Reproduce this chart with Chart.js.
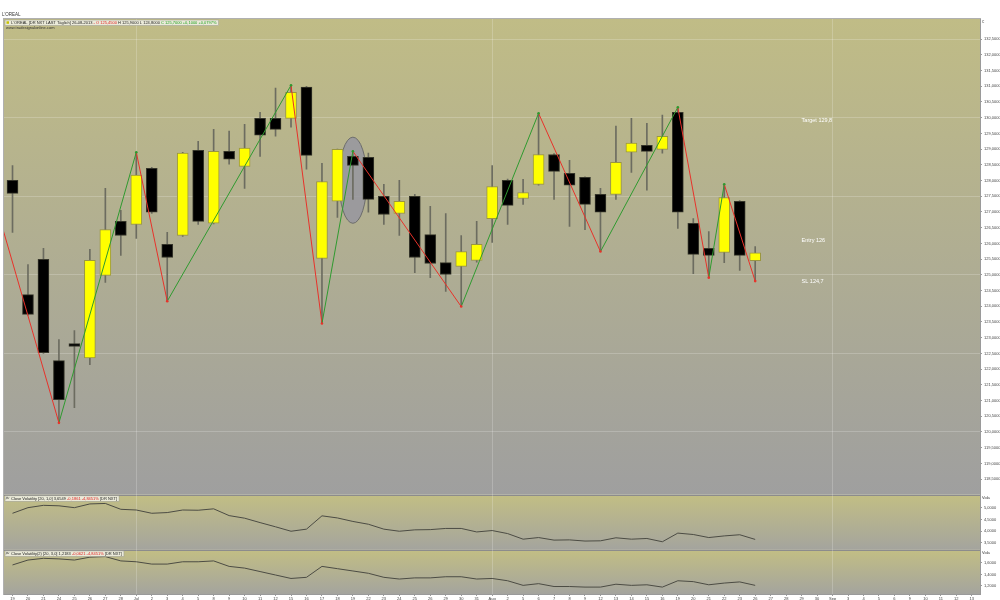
<!DOCTYPE html>
<html>
<head>
<meta charset="utf-8">
<script src="https://cdn.jsdelivr.net/npm/chart.js@4/dist/chart.umd.min.js"></script>
<style>
  html, body { margin: 0; padding: 0; background: #fff; }
  #wrap { width: 1000px; height: 600px; position: relative; }
</style>
</head>
<body>
<div id="wrap"><canvas id="chart"></canvas></div>
<script>
// trading days, Jun 19 - Sep 13 2013
const dates = ['19','20','21','24','25','26','27','28',
  'Jul','2','3','4','5','8','9','10','11','12','15','16','17','18','19','22','23','24','25','26','29','30','31',
  'Aug','2','5','6','7','8','9','12','13','14','15','16','19','20','21','22','23','26','27','28','29','30',
  'Sep','3','4','5','6','9','10','11','12','13'];
const monthStarts = [8, 31, 53];

// daily candles (only up to Aug 26)
const opens  = [128.01,124.37,125.49,122.27,122.81,122.36,124.98,126.70,126.60,128.39,
                125.97,126.25,128.96,126.64,128.93,128.45,129.98,129.98,129.98,130.97,
                125.52,127.34,128.77,128.74,127.50,126.95,127.50,126.28,125.39,125.27,
                125.46,126.79,128.01,127.43,127.88,128.83,128.23,128.10,127.56,127.56,
                128.90,129.12,128.99,130.17,126.64,125.84,125.71,127.34,125.45];
const highs  = [128.48,125.33,125.84,122.94,123.23,125.81,127.75,127.05,128.90,128.42,
                126.35,128.90,129.25,129.63,129.57,129.79,130.17,130.94,131.03,131.00,
                128.55,129.00,128.93,128.87,127.88,128.01,127.56,127.18,126.95,126.25,
                126.70,128.48,128.05,128.04,130.14,128.86,128.64,128.12,127.75,129.73,
                129.98,129.82,130.08,130.33,126.79,126.38,127.88,127.36,125.90];
const lows   = [126.35,123.72,122.50,120.29,120.77,122.14,124.76,125.62,126.16,126.95,
                124.15,126.22,126.60,126.62,128.52,127.75,128.77,129.41,129.70,128.36,
                123.45,126.83,127.40,126.99,126.60,126.25,125.07,124.91,124.47,123.99,
                125.40,126.03,126.60,127.24,127.85,127.40,126.54,126.44,125.74,127.40,
                128.26,127.69,128.87,126.48,125.04,124.91,125.39,125.14,124.80];
const closes = [127.59,123.74,122.52,121.03,122.72,125.46,126.44,126.25,128.17,126.99,
                125.55,128.87,126.70,128.93,128.68,129.03,129.44,129.63,130.81,128.80,
                127.97,128.99,128.48,127.40,126.92,127.34,125.55,125.36,125.01,125.74,
                125.97,127.81,127.21,127.62,128.83,128.29,127.85,127.24,126.99,128.58,
                129.19,128.93,129.41,126.99,125.65,125.62,127.46,125.62,125.70];

// zigzag swing points
const zzIndex = [-1, 3, 8, 10, 18, 20, 22, 29, 34, 38, 43, 45, 46, 48];
const zzPrice = [127.1, 120.29, 128.90, 124.16, 131.03, 123.45, 128.93, 123.99, 130.14, 125.74, 130.33, 124.91, 127.88, 124.80];

// volatility panels
const vola1 = [4.77,5.01,5.11,5.09,5.01,5.17,5.19,4.94,4.91,4.77,
               4.80,4.91,4.90,4.96,4.67,4.56,4.37,4.19,4.00,4.09,
               4.66,4.57,4.42,4.30,4.09,4.00,4.06,4.07,4.12,4.12,
               3.97,4.03,3.90,3.66,3.73,3.62,3.63,3.58,3.59,3.72,
               3.66,3.69,3.55,3.92,3.86,3.73,3.80,3.85,3.65];
const vola2 = [1.565,1.65,1.68,1.67,1.65,1.70,1.71,1.635,1.62,1.58,
               1.58,1.62,1.62,1.635,1.54,1.51,1.45,1.39,1.33,1.35,
               1.54,1.50,1.46,1.42,1.35,1.32,1.34,1.34,1.36,1.36,
               1.32,1.33,1.29,1.21,1.24,1.19,1.19,1.18,1.18,1.23,
               1.21,1.22,1.18,1.29,1.275,1.22,1.25,1.27,1.21];

// tick labels
const priceTicks = [118.5,119,119.5,120,120.5,121,121.5,122,122.5,123,123.5,124,124.5,125,125.5,
                    126,126.5,127,127.5,128,128.5,129,129.5,130,130.5,131,131.5,132,132.5];
const vola1Ticks = [3.5, 4, 4.5, 5];
const vola2Ticks = [1.2, 1.4, 1.6];

// trade levels written on the chart
const levelTexts  = ['Target 129,8', 'Entry 126', 'SL 124,7'];
const levelPrices = [129.8, 126, 124.7];
const levelAt = 51.0;

// circled candle
const markIndex = 22, markPrice = 128.01;

const mainLegend = [["L'OREAL [DR NXT LAST Täglich] 26-08-2013 ", '#222'], ['- O 125,4500', '#e02020'],
                    [' H 125,9000 L 124,8000 ', '#222'], ['C 125,7000 +0,1000 +0,0797%', '#1c9e1c']];
const vola1Legend = [['Close Volatility [20, 1,0] 3,6549 ', '#222'], ['-0,1861 -4,8451%', '#e02020'], [' [DR NXT]', '#222']];
const vola2Legend = [['Close Volatility(2) [20, 3,0] 1,2183 ', '#222'], ['-0,0621 -4,8451%', '#e02020'], [' [DR NXT]', '#222']];

const FONT = '"Liberation Sans", Arial, sans-serif';
const RED = '#e8322a', GREEN = '#2f9a2f';

const fmt = v => v.toFixed(4).replace('.', ',');
const isUp = i => closes[i] >= opens[i];

function drawLegend(ctx, x, y, parts) {
  ctx.font = '4px ' + FONT;
  let w = 6;
  parts.forEach(p => { w += ctx.measureText(p[0]).width; });
  ctx.fillStyle = 'rgba(238,238,226,0.9)';
  ctx.fillRect(x, y, w + 2, 5.5);
  ctx.strokeStyle = '#9a9a90';
  ctx.lineWidth = 0.5;
  ctx.strokeRect(x, y, w + 2, 5.5);
  ctx.textBaseline = 'middle';
  let cx = x + 6;
  parts.forEach(p => {
    ctx.fillStyle = p[1];
    ctx.fillText(p[0], cx, y + 2.9);
    cx += ctx.measureText(p[0]).width;
  });
}

const decor = {
  id: 'decor',
  beforeDraw(chart) {
    const { ctx, chartArea: a } = chart;
    ctx.save();
    ctx.fillStyle = '#ffffff';
    ctx.fillRect(0, 0, chart.width, chart.height);
    const panes = [['y', '#c0bc86', '#9f9f9f'], ['y2', '#c2be84', '#a4a49e'], ['y3', '#c2be84', '#a4a49e']];
    panes.forEach(([id, c0, c1]) => {
      const s = chart.scales[id];
      const g = ctx.createLinearGradient(0, s.top, 0, s.bottom);
      g.addColorStop(0, c0);
      g.addColorStop(1, c1);
      ctx.fillStyle = g;
      ctx.fillRect(a.left, s.top, a.right - a.left, s.bottom - s.top);
    });
    ctx.strokeStyle = '#8c8c8c';
    ctx.lineWidth = 1;
    ['y', 'y2'].forEach(id => {
      const yb = Math.round(chart.scales[id].bottom) + 0.5;
      ctx.beginPath();
      ctx.moveTo(a.left, yb);
      ctx.lineTo(a.right, yb);
      ctx.stroke();
    });
    ctx.strokeStyle = '#b0b0b0';
    ctx.strokeRect(a.left - 0.5, a.top - 0.5, a.right - a.left + 1, a.bottom - a.top + 1);
    ctx.restore();
  },
  beforeDatasetsDraw(chart) {
    const { ctx, scales: { x, y } } = chart;
    const cx = x.getPixelForValue(markIndex), cy = y.getPixelForValue(markPrice);
    const rx = x.getPixelForValue(markIndex + 0.9) - cx;
    const ry = y.getPixelForValue(markPrice - 1.37) - cy;
    ctx.save();
    ctx.beginPath();
    ctx.ellipse(cx, cy, rx, ry, 0, 0, Math.PI * 2);
    ctx.fillStyle = 'rgba(150,150,160,0.85)';
    ctx.fill();
    ctx.strokeStyle = '#6c6c6c';
    ctx.lineWidth = 1;
    ctx.stroke();
    ctx.restore();
  },
  afterDraw(chart) {
    const { ctx, chartArea: a, scales: { x, y, y2, y3 } } = chart;
    ctx.save();
    // trade levels
    ctx.font = '5.5px ' + FONT;
    ctx.fillStyle = '#ffffff';
    ctx.textBaseline = 'middle';
    levelTexts.forEach((t, i) => {
      ctx.fillText(t, x.getPixelForValue(levelAt), y.getPixelForValue(levelPrices[i]) - 3);
    });
    // title and legends
    ctx.font = '4.5px ' + FONT;
    ctx.fillStyle = '#333';
    ctx.fillText("L'OREAL", 2, 15);
    drawLegend(ctx, a.left + 1, y.top + 1, mainLegend);
    ctx.fillStyle = '#c8c400';
    ctx.fillRect(a.left + 2.5, y.top + 2.3, 2.5, 2.5);
    ctx.font = '4px ' + FONT;
    ctx.fillStyle = '#333';
    ctx.textBaseline = 'middle';
    ctx.fillText('www.tradesignalonline.com', a.left + 2, y.top + 9);
    drawLegend(ctx, a.left + 1, y2.top + 1, vola1Legend);
    drawLegend(ctx, a.left + 1, y3.top + 1, vola2Legend);
    [y2, y3].forEach(s => {
      ctx.strokeStyle = '#333';
      ctx.lineWidth = 0.5;
      ctx.beginPath();
      ctx.moveTo(a.left + 2, s.top + 4.5);
      ctx.lineTo(a.left + 3, s.top + 2);
      ctx.lineTo(a.left + 4, s.top + 4);
      ctx.lineTo(a.left + 5, s.top + 2.5);
      ctx.stroke();
    });
    // axis captions
    ctx.font = '4px ' + FONT;
    ctx.fillStyle = '#333';
    ctx.fillText('€', a.right + 2, y.top + 2.5);
    ctx.fillText('Vola', a.right + 2, y2.top + 3);
    ctx.fillText('Vola', a.right + 2, y3.top + 3);
    ctx.restore();
  }
};

const yTickOpts = { callback: v => fmt(v), font: { size: 4, family: FONT }, color: '#444', padding: 2 };
const yGrid = { color: 'transparent', tickColor: '#9a9a9a', tickLength: 2 };

new Chart(document.getElementById('chart'), {
  type: 'bar',
  data: {
    datasets: [
      {
        type: 'line', yAxisID: 'y', order: 0,
        data: zzIndex.map((v, i) => ({ x: v, y: zzPrice[i] })),
        borderWidth: 1, tension: 0,
        segment: { borderColor: c => c.p1.parsed.y < c.p0.parsed.y ? RED : GREEN },
        pointRadius: c => c.dataIndex === 0 ? 0 : 1.3,
        pointBackgroundColor: c => (c.dataIndex > 0 && zzPrice[c.dataIndex] > zzPrice[c.dataIndex - 1]) ? GREEN : RED,
        pointBorderWidth: 0
      },
      {
        yAxisID: 'y', order: 1, grouped: false,
        data: opens.map((o, i) => ({ x: i, y: [o, closes[i]] })),
        backgroundColor: c => isUp(c.dataIndex) ? '#ffff00' : '#000000',
        borderColor: c => isUp(c.dataIndex) ? '#9a9640' : '#35352a',
        borderWidth: 1, borderSkipped: false, barThickness: 11, minBarLength: 2
      },
      {
        yAxisID: 'y', order: 2, grouped: false,
        data: highs.map((h, i) => ({ x: i, y: [lows[i], h] })),
        backgroundColor: '#6c6c60', barThickness: 1
      },
      {
        type: 'line', yAxisID: 'y2',
        data: vola1.map((v, i) => ({ x: i, y: v })),
        borderColor: '#4c4c44', borderWidth: 1, pointRadius: 0, tension: 0
      },
      {
        type: 'line', yAxisID: 'y3',
        data: vola2.map((v, i) => ({ x: i, y: v })),
        borderColor: '#4c4c44', borderWidth: 1, pointRadius: 0, tension: 0
      }
    ]
  },
  options: {
    responsive: true,
    maintainAspectRatio: false,
    animation: false,
    layout: { padding: { top: 19, left: 1, right: 0, bottom: 0 } },
    plugins: { legend: { display: false }, tooltip: { enabled: false } },
    scales: {
      x: {
        type: 'linear', min: -0.55, max: 62.53, offset: false,
        afterBuildTicks: s => { s.ticks = dates.map((d, i) => ({ value: i })); },
        afterFit: s => { s.height = 6; },
        ticks: { callback: v => dates[v] ?? '', font: { size: 4, family: FONT }, color: '#444',
                 padding: 0, autoSkip: false, maxRotation: 0 },
        grid: { offset: false,
                color: c => (c.tick && monthStarts.includes(c.tick.value)) ? 'rgba(255,255,255,0.2)' : 'transparent',
                tickColor: '#9a9a9a', tickLength: 2 },
        border: { color: '#9a9a9a' }
      },
      y: {
        type: 'linear', position: 'right', stack: 'panes', stackWeight: 475,
        min: 118.0, max: 133.14,
        afterBuildTicks: s => { s.ticks = priceTicks.map(v => ({ value: v })); },
        afterFit: s => { s.width = 20; },
        ticks: yTickOpts,
        grid: { color: c => (c.tick && Math.abs(c.tick.value / 2.5 - Math.round(c.tick.value / 2.5)) < 1e-6) ? 'rgba(255,255,255,0.2)' : 'transparent',
                tickColor: '#9a9a9a', tickLength: 2 },
        border: { color: '#9a9a9a' }
      },
      y2: {
        type: 'linear', position: 'right', stack: 'panes', stackWeight: 55,
        min: 3.20, max: 5.56,
        afterBuildTicks: s => { s.ticks = vola1Ticks.map(v => ({ value: v })); },
        afterFit: s => { s.width = 20; },
        ticks: yTickOpts, grid: yGrid, border: { color: '#9a9a9a' }
      },
      y3: {
        type: 'linear', position: 'right', stack: 'panes', stackWeight: 44,
        min: 1.06, max: 1.826,
        afterBuildTicks: s => { s.ticks = vola2Ticks.map(v => ({ value: v })); },
        afterFit: s => { s.width = 20; },
        ticks: yTickOpts, grid: yGrid, border: { color: '#9a9a9a' }
      }
    }
  },
  plugins: [decor]
});
</script>
</body>
</html>
